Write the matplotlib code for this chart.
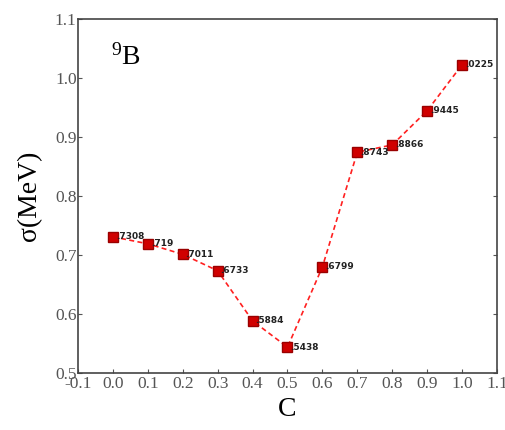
import matplotlib.pyplot as plt

c = [0.0, 0.1, 0.2, 0.3, 0.4, 0.5, 0.6, 0.7, 0.8, 0.9, 1.0]
sigma = [0.7308, 0.719, 0.7011, 0.6733, 0.5884, 0.5438, 0.6799, 0.8743, 0.8866, 0.9445, 1.0225]
labels = [".7308", ".719", ".7011", ".6733", ".5884", ".5438", ".6799", ".8743", ".8866", ".9445", ".0225"]
xticks = [-0.1, 0.0, 0.1, 0.2, 0.3, 0.4, 0.5, 0.6, 0.7, 0.8, 0.9, 1.0, 1.1]
yticks = [0.5, 0.6, 0.7, 0.8, 0.9, 1.0, 1.1]

plt.rcParams["font.family"] = "Liberation Serif"
plt.rcParams["mathtext.fontset"] = "custom"
plt.rcParams["mathtext.rm"] = "Liberation Serif"
plt.rcParams["mathtext.it"] = "Liberation Serif:italic"
fig = plt.figure(figsize=(5.06, 4.30), dpi=100)
ax = fig.add_axes([78 / 506, 1 - 373 / 430, 419 / 506, 354 / 430])

ax.plot(c, sigma, "--", color="#ff2020", lw=1.2, dashes=(3, 2))
ax.plot(c, sigma, "s", color="#d00000", markeredgecolor="#990000", ms=6.5, ls="none")
for xi, yi, s in zip(c, sigma, labels):
    ax.text(xi + 0.008, yi, s, fontsize=6.5, family="DejaVu Sans", weight="bold",
            color="#222222", va="center", ha="left")

ax.set_xlim(-0.1, 1.1)
ax.set_ylim(0.5, 1.1)
ax.set_xticks(xticks)
ax.set_xticklabels(["%.1f" % v for v in xticks])
ax.set_yticks(yticks)
ax.set_yticklabels(["%.1f" % v for v in yticks])
ax.tick_params(direction="in", length=3, labelsize=12.5, colors="#555555", pad=2, right=True)
ax.tick_params(axis="y", pad=1)
for sp in ax.spines.values():
    sp.set_color("#444444")
    sp.set_linewidth(1.2)

ax.set_xlabel("C", fontsize=20, labelpad=4)
ax.set_ylabel("σ(MeV)", fontsize=20, labelpad=9)
ax.text(-0.005, 1.035, r"$^{9}\mathrm{B}$", fontsize=20, ha="left", va="center")

fig.savefig("out.png", dpi=100)
